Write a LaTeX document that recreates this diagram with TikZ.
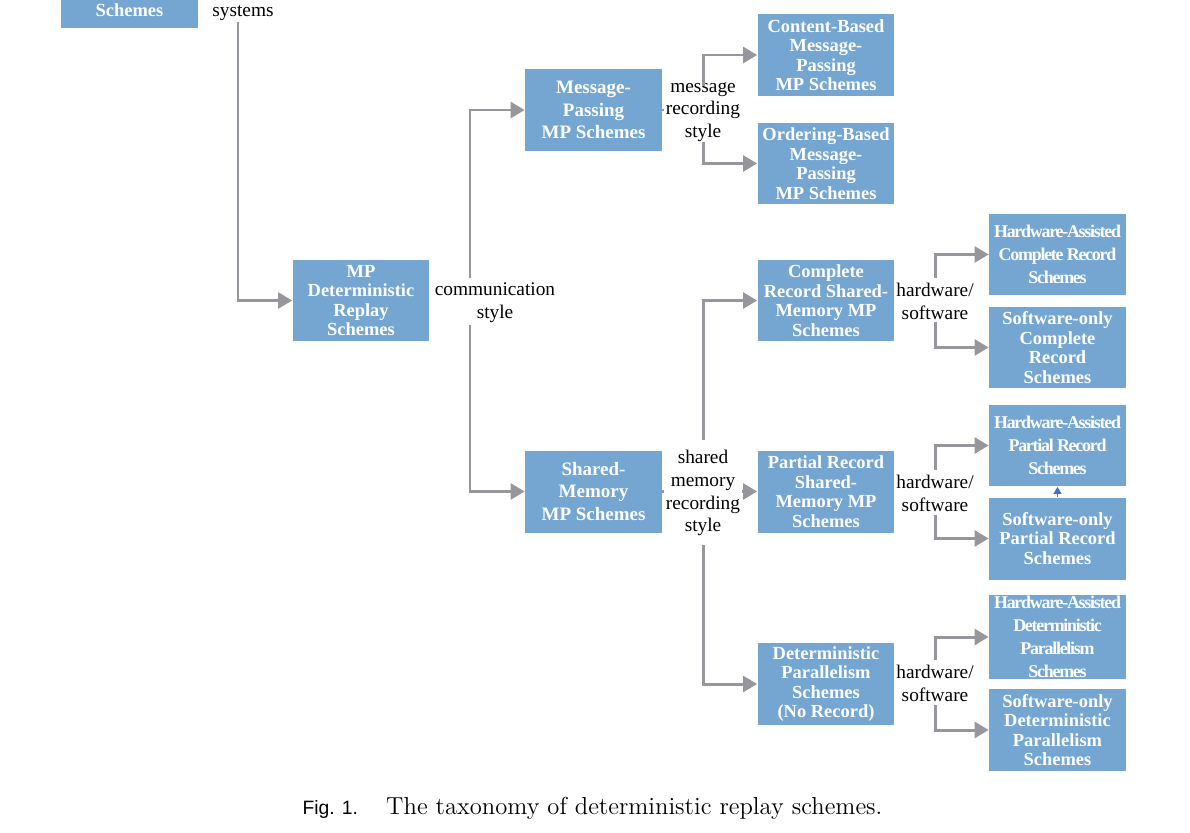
\documentclass[tikz,border=0pt]{standalone}
\usepackage{fontspec}
\newfontfamily\timesfont{Liberation Serif}
\newfontfamily\helvfont{Liberation Sans}
\usetikzlibrary{arrows.meta}
\definecolor{drblue}{RGB}{117,166,210}
\definecolor{drgray}{RGB}{150,150,156}
\definecolor{drdark}{RGB}{68,114,196}
\tikzset{
  drbox/.style={fill=drblue, text=white, align=center, minimum width=2.74cm, minimum height=1.64cm, inner sep=1pt, font=\timesfont\bfseries\fontsize{10.5}{11.1}\selectfont},
  drroomy/.style={drbox, font=\timesfont\bfseries\fontsize{10.8}{13}\selectfont},
  drtight/.style={drbox, font=\timesfont\bfseries\fontsize{10.2}{13}\selectfont\addfontfeature{LetterSpace=-7}},
  drlabel/.style={align=center, inner sep=1pt, font=\timesfont\fontsize{11}{13}\selectfont},
  drline/.style={draw=drgray, line width=1.7pt},
  drarrow/.style={drline, -{Triangle[length=8pt,width=9pt]}},
  drsmall/.style={draw=drdark, line width=0.8pt, -{Triangle[length=4pt,width=4.5pt]}}
}
\begin{document}
\begin{tikzpicture}[x=0.02cm, y=-0.02cm]
\useasboundingbox (0,0) rectangle (1190,832);
\clip (0,0) rectangle (1190,832);
% root (cut off at the top)
\node[drbox, anchor=south, minimum height=0pt, text height=2cm, text depth=0pt, inner ysep=6.3pt] (root) at (129.5,28) {Schemes};
\node[drlabel] (systems) at (243,13) {systems};
% level 1
\node[drbox] (mp) at (361,300.5) {MP\\Deterministic\\Replay\\Schemes};
\node[drlabel] (comm) at (495,303) {communication\\style};
% level 2
\node[drroomy] (msg) at (593.5,110) {Message-\\Passing\\MP Schemes};
\node[drroomy] (shared) at (593.5,491.5) {Shared-\\Memory\\MP Schemes};
\node[drlabel] (msgstyle) at (703,112) {message\\recording\\style};
\node[drlabel] (shstyle) at (703,493) {shared\\memory\\recording\\style};
% level 3
\node[drbox] (content) at (826,55) {Content-Based\\Message-\\Passing\\MP Schemes};
\node[drbox] (ordering) at (826,163.5) {Ordering-Based\\Message-\\Passing\\MP Schemes};
\node[drbox] (complete) at (826,300.5) {Complete\\Record Shared-\\Memory MP\\Schemes};
\node[drbox] (partial) at (826,491.5) {Partial Record\\Shared-\\Memory MP\\Schemes};
\node[drbox] (dp) at (826,684) {Deterministic\\Parallelism\\Schemes\\(No Record)};
\node[drlabel] (hwsw1) at (935,301) {hardware/\\software};
\node[drlabel] (hwsw2) at (935,493) {hardware/\\software};
\node[drlabel] (hwsw3) at (935,683) {hardware/\\software};
% level 4
\node[drtight] (hwc) at (1057.5,254.5) {Hardware-Assisted\\Complete Record\\Schemes};
\node[drbox] (swc) at (1057.5,347.5) {Software-only\\Complete\\Record\\Schemes};
\node[drtight] (hwp) at (1057.5,445.5) {Hardware-Assisted\\Partial Record\\Schemes};
\node[drbox] (swp) at (1057.5,538.5) {Software-only\\Partial Record\\Schemes};
\node[drtight] (hwd) at (1057.5,637) {Hardware-Assisted\\Deterministic\\Parallelism\\Schemes};
\node[drbox] (swd) at (1057.5,730) {Software-only\\Deterministic\\Parallelism\\Schemes};
% branch points
\coordinate (sysfoot) at (238,22);
\coordinate (commup) at (470,278);
\coordinate (commdn) at (470,325);
\coordinate (msgup) at (703,86);
\coordinate (msgdn) at (703,142);
\coordinate (shup) at (703,440);
\coordinate (shdn) at (703,545);
\coordinate (hwaup) at (935,278);
\coordinate (hwadn) at (935,322);
\coordinate (hwbup) at (935,470);
\coordinate (hwbdn) at (935,515);
\coordinate (hwcup) at (935,660);
\coordinate (hwcdn) at (935,705);
% connectors
\draw[drarrow] (sysfoot) |- (mp.west);
\draw[drarrow] (commup) |- (msg.west);
\draw[drarrow] (commdn) |- (shared.west);
\draw[drline] (msg.east) -- (msgstyle.west |- msg.east);
\draw[drline] (shared.east) -- (shstyle.west |- shared.east);
\draw[drarrow] (msgup) |- (content.west);
\draw[drarrow] (msgdn) |- (ordering.west);
\draw[drarrow] (shup) |- (complete.west);
\draw[drarrow] (shstyle.east |- partial.west) -- (partial.west);
\draw[drarrow] (shdn) |- (dp.west);
\draw[drarrow] (hwaup) |- (hwc.west);
\draw[drarrow] (hwadn) |- (swc.west);
\draw[drarrow] (hwbup) |- (hwp.west);
\draw[drarrow] (hwbdn) |- (swp.west);
\draw[drarrow] (hwcup) |- (hwd.west);
\draw[drarrow] (hwcdn) |- (swd.west);
\draw[drsmall] (swp.north) -- (hwp.south);
% caption
\node[font=\fontsize{14}{16}\selectfont] (caption) at (592.5,808) {{\helvfont\fontsize{11}{13}\selectfont Fig. 1.}\hspace{16pt}The taxonomy of deterministic replay schemes.};
\end{tikzpicture}
\end{document}
